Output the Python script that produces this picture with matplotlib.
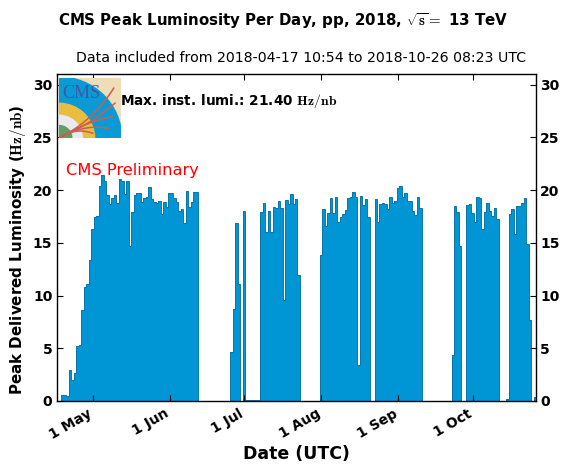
#!/usr/bin/env python3
"""CMS peak luminosity per day, pp 2018."""

import numpy as np
import pandas as pd
import matplotlib
matplotlib.use('Agg')
import matplotlib.pyplot as plt
import matplotlib.dates as mdates
from matplotlib.patches import Rectangle, Wedge
from matplotlib.transforms import ScaledTranslation

first_day = '2018-04-17'

# one value per day (Hz/nb)
peak_lumi = [
    0, 0,
    0.55, 0.55, 0.5, 2.9, 2.0, 2.7, 5.2, 5.35, 8.6, 10.8, 11.1, 13.4, 16.3,
    17.4, 17.5, 20.4, 21.4, 20.9, 19.5, 18.7, 19.2, 19.5, 18.8, 21.0, 20.9,
    19.6, 20.9, 14.7, 17.9, 19.5, 19.7, 19.75, 18.9, 19.2, 19.3, 20.3, 19.15,
    18.9, 18.8, 18.95, 17.7, 18.9, 18.4, 19.7, 19.75, 19.2, 18.9, 18.05, 18.2,
    16.9, 19.9, 18.4, 18.9, 19.85, 19.8,
    0, 0, 0, 0, 0, 0, 0, 0, 0, 0, 0, 0, 0,
    4.66, 8.75, 16.9, 11.1, 0, 18.05,
    0.05, 0.05, 0.05, 0.05, 0.05, 0.05,
    17.9, 18.8, 16.0, 18.0, 16.05, 18.35, 18.25, 18.95, 18.3, 9.55, 19.05,
    18.7, 19.6, 18.7, 19.15, 11.95,
    0, 0, 0, 0, 0, 0, 0, 0,
    13.85, 18.2, 16.55, 17.8, 19.2, 17.8, 19.35, 17.0, 17.4, 17.75, 18.1,
    19.2, 19.3, 19.8, 19.35, 3.4, 19.4, 18.6, 19.15, 17.45,
    0, 0,
    19.15, 17.0, 18.65, 18.75, 18.65, 18.2, 19.3, 18.75, 19.0, 20.15, 20.4,
    19.35, 19.7, 19.0, 18.95, 18.05, 17.6, 19.3, 18.25,
    0, 0, 0, 0, 0, 0, 0, 0, 0, 0, 0, 0,
    4.4, 18.45, 17.95, 14.65,
    0, 0,
    18.6, 18.65, 17.8, 16.95, 19.3, 19.2, 16.3, 17.95, 18.75, 18.05, 17.5,
    18.25, 17.25,
    0, 0, 0,
    0.2, 17.7, 18.2, 15.85, 18.45, 18.5, 18.8, 19.2, 14.9, 7.65, 0, 0.4,
]

month_ticks = ['2018-05-01', '2018-06-01', '2018-07-01', '2018-08-01',
               '2018-09-01', '2018-10-01']
month_labels = ['1 May', '1 Jun', '1 Jul', '1 Aug', '1 Sep', '1 Oct']
y_ticks = [0, 5, 10, 15, 20, 25, 30]

FILL = '#0096d6'
EDGE = '#0e76a8'


def draw_logo(fig):
    """Rough CMS logo: a quarter of the detector on a tan square."""
    ax = fig.add_axes([59 / 561, 1 - 138 / 465, 61.5 / 561, 60 / 465])
    ax.set_xlim(0, 1)
    ax.set_ylim(0, 1)
    ax.axis('off')
    ax.add_patch(Rectangle((0, 0), 1, 1, color='#efdcb9', zorder=0))
    rings = [(1.03, '#0a9ad6'), (0.59, '#e9bd3f'), (0.39, '#e9e9ee'),
             (0.22, '#5f9f62')]
    for radius, colour in rings:
        ax.add_patch(Wedge((0, 0), radius, 0, 90, color=colour, lw=0))
    t = np.linspace(0, 1, 40)
    # track end point and bezier control point
    for end, ctrl in [((0.89, 0.83), (0.55, 0.28)), ((0.91, 0.58), (0.50, 0.22)),
                      ((0.87, 0.36), (0.42, 0.26)), ((0.80, 0.16), (0.42, 0.24)),
                      ((0.55, 0.08), (0.25, 0.18))]:
        x = 2 * (1 - t) * t * ctrl[0] + t ** 2 * end[0]
        y = 2 * (1 - t) * t * ctrl[1] + t ** 2 * end[1]
        ax.plot(x, y, color='#c8604f', lw=1.1)
    ax.text(0.06, 0.74, 'CMS', color='#3b5aa6', fontsize=13,
            family='Liberation Serif', va='center')
    ax.set_zorder(5)


def main():
    plt.rcParams['mathtext.fontset'] = 'cm'
    plt.rcParams['font.family'] = 'DejaVu Sans'

    fig = plt.figure(figsize=(5.61, 4.65), dpi=100)
    ax = fig.add_axes([56.5 / 561, 1 - 401 / 465, 479.5 / 561, 327 / 465])

    days = pd.date_range(first_day, periods=len(peak_lumi), freq='D')
    centers = mdates.date2num(days)
    edges = np.append(centers - 0.5, centers[-1] + 0.5)

    ax.stairs(peak_lumi, edges, fill=True, color=FILL, lw=0)
    ax.stairs(peak_lumi, edges, color=EDGE, lw=0.7)

    ax.set_xlim(edges[0], edges[-1])
    ax.set_ylim(0, 31)

    ax.set_xticks(mdates.date2num(pd.to_datetime(month_ticks)))
    ax.set_xticklabels(month_labels, rotation=30, ha='right', fontweight='bold',
                       fontsize=10)
    ax.set_yticks(y_ticks)
    ax.set_yticklabels(y_ticks, fontweight='bold', fontsize=10)
    ax.tick_params(direction='in', top=True, right=True, labelright=True,
                   length=4, width=0.8, pad=3)
    ax.tick_params(axis='x', pad=4)
    shift = ScaledTranslation(2 / 100, 0, fig.dpi_scale_trans)
    for label in ax.get_xticklabels():
        label.set_transform(label.get_transform() + shift)
    for side in ax.spines.values():
        side.set_linewidth(1.0)

    ax.set_xlabel('Date (UTC)', fontweight='bold', fontsize=12.5, labelpad=2)
    fig.text(18 / 561, 1 - 395 / 465,
             r'Peak Delivered Luminosity ($\mathbf{Hz/nb}$)', rotation=90,
             ha='center', va='bottom', fontweight='bold', fontsize=10.9)

    fig.text(283 / 561, 1 - 21 / 465,
             r'CMS Peak Luminosity Per Day, pp, 2018, $\mathbf{\sqrt{s} =}$ 13 TeV',
             ha='center', va='center', fontweight='bold', fontsize=10.8)
    fig.text(301 / 561, 1 - 58 / 465,
             'Data included from 2018-04-17 10:54 to 2018-10-26 08:23 UTC',
             ha='center', va='center', fontsize=10.2)
    fig.text(120 / 561, 1 - 101 / 465,
             r'Max. inst. lumi.: 21.40 $\mathbf{Hz/nb}$',
             ha='left', va='center', fontweight='bold', fontsize=9.85)
    fig.text(66 / 561, 1 - 171 / 465, 'CMS Preliminary', color='red',
             ha='left', va='center', fontsize=11.7)

    draw_logo(fig)

    fig.savefig('out.png', dpi=100)


if __name__ == "__main__":
    main()
